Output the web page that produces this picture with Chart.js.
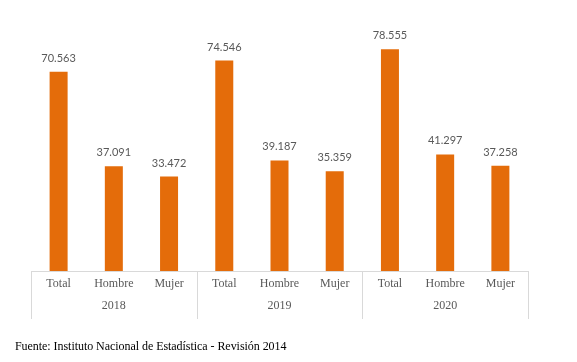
<!DOCTYPE html>
<html>
<head>
<meta charset="utf-8">
<script src="https://cdn.jsdelivr.net/npm/chart.js@4"></script>
<style>
  html,body{margin:0;padding:0;background:#fff;}
  #wrap{position:relative;width:577px;height:362px;}
  #note{position:absolute;left:15px;top:339px;font:12px "Liberation Serif",serif;color:#000;white-space:nowrap;letter-spacing:-0.05px;}
</style>
</head>
<body>
<div id="wrap">
  <canvas id="chart" width="577" height="362"></canvas>
  <div id="note">Fuente: Instituto Nacional de Estadística - Revisión 2014</div>
</div>
<script>
// data (thousands)
const years = ['2018','2019','2020'];
const groups = ['Total','Hombre','Mujer'];
const values = [70563, 37091, 33472, 74546, 39187, 35359, 78555, 41297, 37258];

const labels = years.flatMap(()=>groups);
const orange = '#E46C0A';

function fmt(v){
  return String(v).replace(/\B(?=(\d{3})+(?!\d))/g,'.');
}

// value labels over bars
const valueLabels = {
  id:'valueLabels',
  afterDatasetsDraw(chart){
    const ctx = chart.ctx;
    const meta = chart.getDatasetMeta(0);
    ctx.save();
    ctx.font = '11px Lato, sans-serif';
    ctx.fillStyle = '#595959';
    ctx.textAlign = 'center';
    ctx.textBaseline = 'alphabetic';
    meta.data.forEach((bar,i)=>{
      ctx.fillText(fmt(values[i]), bar.x, bar.y - 10);
    });
    ctx.restore();
  }
};

// separators between year groups, under the axis
const groupLines = {
  id:'groupLines',
  afterDraw(chart){
    const x = chart.scales.x;
    const ctx = chart.ctx;
    const half = (x.getPixelForValue(1) - x.getPixelForValue(0)) / 2;
    ctx.save();
    ctx.strokeStyle = '#d9d9d9';
    ctx.lineWidth = 1;
    for(let g=0; g<=years.length; g++){
      const px = g < years.length ? x.getPixelForValue(g*groups.length) - half
                                  : x.getPixelForValue(labels.length-1) + half;
      const xx = Math.round(px) + 0.5;
      ctx.beginPath();
      ctx.moveTo(xx, x.top);
      ctx.lineTo(xx, chart.scales.x2.bottom - 2);
      ctx.stroke();
    }
    ctx.restore();
  }
};

const tickFont = {family:'"Liberation Serif", serif',size:12};

new Chart(document.getElementById('chart'), {
  type:'bar',
  data:{
    labels,
    datasets:[{
      data: values.map(v=>v/1000),
      backgroundColor: orange,
      categoryPercentage: 1,
      barPercentage: 0.326
    }]
  },
  options:{
    responsive:false,
    animation:false,
    layout:{padding:{left:31,right:49,top:17,bottom:41}},
    plugins:{legend:{display:false},tooltip:{enabled:false}},
    scales:{
      y:{display:false,min:0,max:90},
      x:{
        offset:true,
        grid:{display:false,drawTicks:false},
        border:{display:true,color:'#d9d9d9',width:1},
        ticks:{color:'#595959',font:tickFont,padding:6,maxRotation:0,autoSkip:false},
        afterFit(s){ s.height = 24; }
      },
      x2:{
        type:'category',
        labels: years,
        position:'bottom',
        offset:true,
        grid:{display:false,drawTicks:false},
        border:{display:false},
        ticks:{color:'#595959',font:tickFont,padding:4,maxRotation:0},
        afterFit(s){ s.height = 26; }
      }
    }
  },
  plugins:[valueLabels, groupLines]
});
</script>
</body>
</html>
